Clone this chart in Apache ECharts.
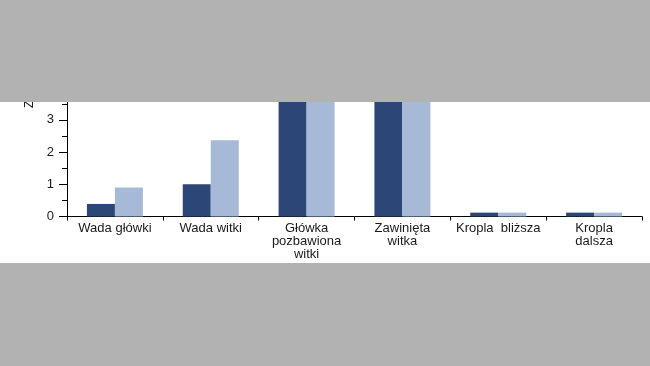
<!DOCTYPE html>
<html>
<head>
<meta charset="utf-8">
<script src="https://cdn.jsdelivr.net/npm/echarts@6/dist/echarts.min.js"></script>
<style>
html,body{margin:0;padding:0;background:#ffffff;}
#chart{width:650px;height:366px;}
</style>
</head>
<body>
<div id="chart"></div>
<script>
const categories = ['Wada główki', 'Wada witki', 'Główka\npozbawiona\nwitki', 'Zawinięta\nwitka', 'Kropla  bliższa', 'Kropla\ndalsza'];
const seriesA = [0.39, 1.0, 4.6, 4.3, 0.12, 0.12];
const seriesB = [0.9, 2.37, 5.1, 4.8, 0.12, 0.12];
const yAxisName = 'Zmiany [%]';

const chart = echarts.init(document.getElementById('chart'));
chart.setOption({
  animation: false,
  backgroundColor: '#ffffff',
  textStyle: { fontFamily: 'Liberation Sans, Arial, sans-serif' },
  grid: { left: 67, right: 8, top: 23.3, bottom: 149.5 },
  xAxis: {
    type: 'category',
    data: categories,
    axisLine: { lineStyle: { color: '#000', width: 1 } },
    axisTick: { show: true, length: 4, lineStyle: { color: '#000' } },
    axisLabel: { color: '#1a1a1a', fontSize: 13, margin: 5, lineHeight: 13, interval: 0, fontFamily: 'Liberation Sans' }
  },
  yAxis: {
    type: 'value',
    min: 0, max: 6, interval: 1,
    axisLine: { show: true, lineStyle: { color: '#000', width: 1 } },
    axisTick: { show: true, length: 8, lineStyle: { color: '#000' } },
    minorTick: { show: true, splitNumber: 2, length: 5, lineStyle: { color: '#000' } },
    splitLine: { show: false },
    axisLabel: { color: '#1a1a1a', fontSize: 13, margin: 13, fontFamily: 'Liberation Sans' }
  },
  series: [
    { type: 'bar', data: seriesA, barWidth: 28, barGap: '0%', itemStyle: { color: '#2c4777' } },
    { type: 'bar', data: seriesB, barWidth: 28, barGap: '0%', itemStyle: { color: '#a6b9d7' } }
  ],
  graphic: [
    { type: 'text', x: 36, y: 108, rotation: Math.PI / 2, z: 10,
      style: { text: yAxisName, fontSize: 12, fill: '#1a1a1a', fontFamily: 'Liberation Sans', textAlign: 'left', textVerticalAlign: 'bottom' } },
    { type: 'rect', z: 100, shape: { x: 0, y: 0, width: 650, height: 102 }, style: { fill: '#b2b2b2' } },
    { type: 'rect', z: 100, shape: { x: 0, y: 263, width: 650, height: 103 }, style: { fill: '#b2b2b2' } }
  ]
});
</script>
</body>
</html>
